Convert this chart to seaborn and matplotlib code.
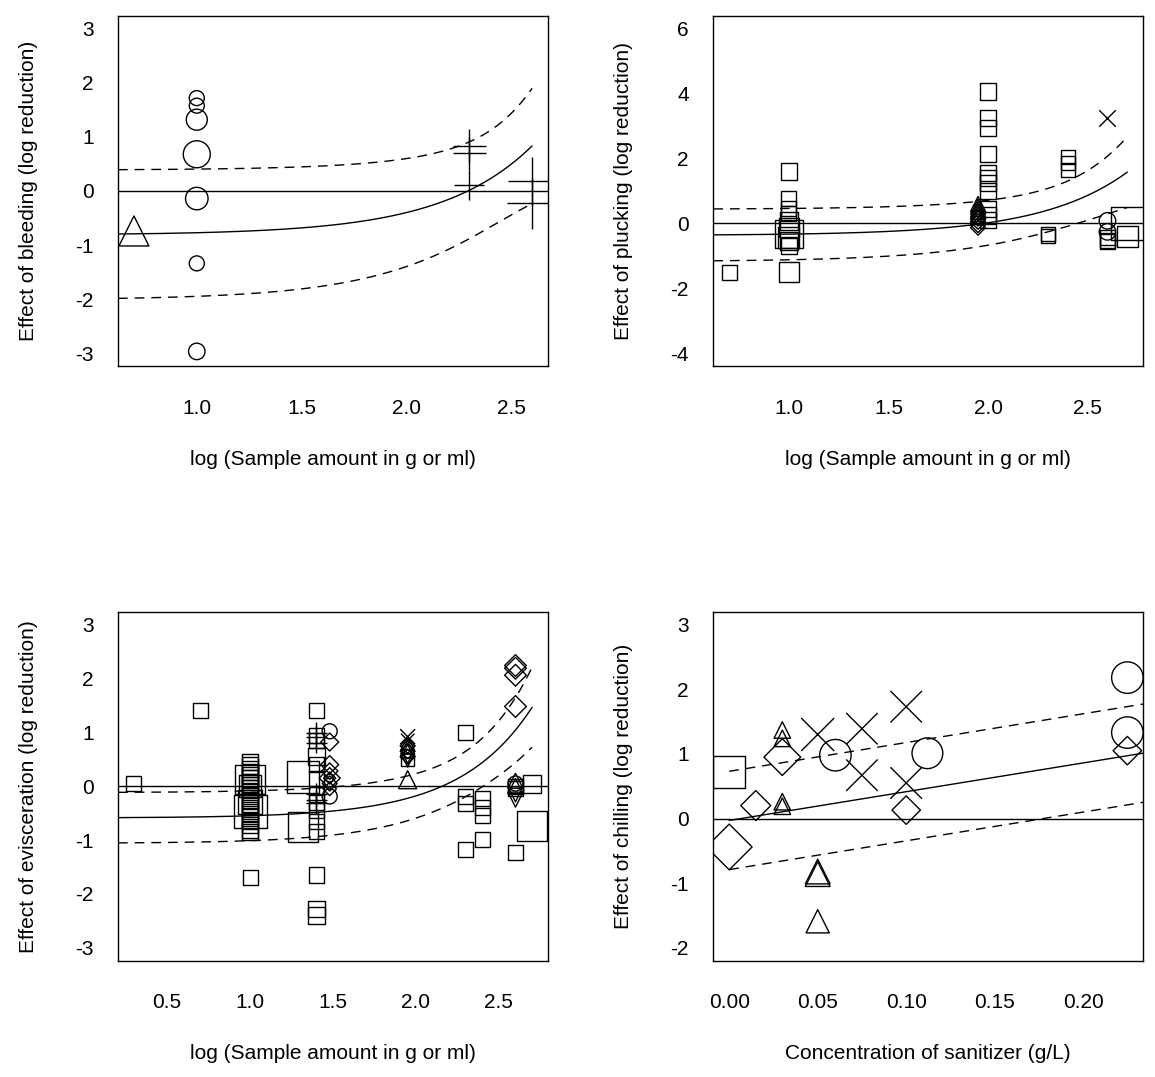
import matplotlib
matplotlib.use('agg')
import numpy as np
import pandas as pd
import matplotlib.pyplot as plt
import seaborn as sns

# ---------------- data ----------------
# pch codes: sq = square, ci = circle, tr = triangle, it = inverted triangle,
#            pl = plus, cr = cross, di = diamond ; w = relative symbol size

# bleeding
bleed_x = [0.70, 1.0, 1.0, 1.0, 1.0, 1.0, 1.0, 1.0, 2.3, 2.3, 2.3, 2.6, 2.6]
bleed_y = [-0.74, 1.72, 1.58, 1.32, 0.68, -0.14, -1.34, -2.97, 0.84, 0.70, 0.11, 0.19, -0.23]
bleed_pch = ['tr', 'ci', 'ci', 'ci', 'ci', 'ci', 'ci', 'ci', 'pl', 'pl', 'pl', 'pl', 'pl']
bleed_w = [2.0, 1.0, 1.0, 1.4, 1.8, 1.5, 1.0, 1.1, 2.2, 2.2, 2.0, 3.2, 3.4]

# plucking
pluck_x = ([0.70] + [1.0] * 11 + [2.0] * 11 + [1.95] * 10
           + [2.3] * 2 + [2.4] * 3 + [2.6] * 6 + [2.7] * 2)
pluck_y = ([-1.52]
           + [1.60, 0.78, 0.45, 0.30, 0.08, -0.12, -0.33, -0.45, -0.55, -0.70, -1.50]
           + [4.07, 3.25, 2.95, 2.14, 1.55, 1.40, 1.25, 1.00, 0.45, 0.25, 0.10]
           + [0.60, 0.52, 0.44, 0.36, 0.28, 0.20, 0.15, 0.05, -0.05, -0.13]
           + [-0.33, -0.38]
           + [2.06, 1.86, 1.65]
           + [3.25, 0.08, -0.26, -0.45, -0.52, -0.56]
           + [0.0, -0.41])
pluck_pch = (['sq'] + ['sq'] * 11 + ['sq'] * 11 + ['tr'] * 6 + ['di'] * 4
             + ['sq'] * 2 + ['sq'] * 3 + ['cr', 'ci', 'ci', 'sq', 'sq', 'sq'] + ['sq'] * 2)
pluck_w = ([1.0]
           + [1.1, 1.0, 1.0, 1.0, 1.2, 1.3, 1.9, 1.4, 1.2, 1.1, 1.35]
           + [1.1] * 11
           + [1.0] * 6 + [1.0] * 4
           + [0.95] * 2 + [0.95] * 3
           + [1.1, 1.1, 1.1, 1.0, 1.0, 1.0]
           + [2.2, 1.4])

# evisceration
evisc_x = ([0.30, 0.70, 1.0] + [1.0] * 25 + [1.32] * 2 + [1.4] * 14 + [1.4] * 6
           + [1.48] * 3 + [1.48] * 7 + [1.95] * 12 + [2.3] * 4 + [2.4] * 4
           + [2.6] * 12 + [2.7] * 2)
evisc_y = ([0.05, 1.40, -1.69]
           + [0.45, 0.38, 0.32, 0.26, 0.20, 0.14, 0.08, 0.02, -0.04, -0.10, -0.18,
              -0.26, -0.32, -0.38, -0.45, -0.52, -0.58, -0.65, -0.72, -0.80, -0.85,
              0.12, -0.47, 0.0, -0.30]
           + [0.17, -0.75]
           + [1.40, 0.95, 0.85, 0.55, 0.40, 0.15, -0.15, -0.30, -0.45, -0.65, -0.85,
              -1.65, -2.28, -2.40]
           + [0.99, 0.91, 0.81, -0.15, -0.25, -0.32]
           + [1.02, -0.19, 0.15]
           + [0.82, 0.40, 0.28, 0.15, 0.15, 0.05, -0.05]
           + [0.92, 0.85, 0.80, 0.72, 0.65, 0.12, 0.75, 0.65, 0.55, 0.55, 0.48, 0.50]
           + [1.0, -0.19, -0.32, -1.17]
           + [-0.22, -0.40, -0.55, -0.99]
           + [2.24, 2.19, 2.06, 1.48, 0.05, 0.10, 0.0, 0.0, -0.05, -0.15, -0.25, -1.23]
           + [0.05, -0.74])
evisc_pch = (['sq'] * 3 + ['sq'] * 25 + ['sq'] * 2 + ['sq'] * 14 + ['pl'] * 6
             + ['ci'] * 3 + ['di'] * 7
             + ['cr', 'cr', 'tr', 'tr', 'tr', 'tr', 'di', 'di', 'di', 'it', 'it', 'sq']
             + ['sq'] * 4 + ['sq'] * 4
             + ['di', 'di', 'di', 'di', 'ci', 'tr', 'tr', 'sq', 'sq', 'it', 'it', 'sq']
             + ['sq'] * 2)
evisc_w = ([1.0, 1.0, 1.0]
           + [1.1] * 21 + [1.95, 2.2, 1.5, 1.6]
           + [2.1, 2.0]
           + [1.0, 1.0, 1.0, 1.1, 1.0, 1.0, 1.0, 1.0, 1.0, 1.0, 1.0, 1.05, 1.1, 1.1]
           + [1.45] * 6
           + [1.0, 1.0, 0.5]
           + [1.2, 1.2, 1.1, 1.4, 0.8, 1.0, 0.9]
           + [1.0, 0.9, 0.9, 0.9, 0.9, 1.2, 1.0, 1.0, 1.0, 0.9, 0.9, 0.9]
           + [1.0] * 4 + [1.0] * 4
           + [1.45, 1.45, 1.45, 1.45, 1.0, 1.0, 1.0, 1.0, 1.0, 1.0, 1.0, 1.0]
           + [1.2, 2.0])

# chilling
chill_x = [0.0, 0.0, 0.015, 0.03, 0.03, 0.03, 0.03, 0.03, 0.05, 0.05, 0.05, 0.05,
           0.06, 0.075, 0.075, 0.10, 0.10, 0.10, 0.112, 0.225, 0.225, 0.225]
chill_y = [0.72, -0.44, 0.20, 1.37, 1.24, 0.26, 0.19, 0.95, 1.30, -0.82, -0.86, -1.59,
           0.98, 1.39, 0.67, 1.73, 0.55, 0.13, 1.01, 2.18, 1.33, 1.05]
chill_pch = ['sq', 'di', 'di', 'tr', 'tr', 'tr', 'tr', 'di', 'cr', 'tr', 'tr', 'tr',
             'ci', 'cr', 'cr', 'cr', 'cr', 'di', 'ci', 'ci', 'ci', 'di']
chill_w = [2.1, 3.05, 2.0, 1.1, 1.1, 1.1, 1.1, 2.45, 2.2, 1.65, 1.65, 1.55,
           2.1, 2.1, 2.1, 2.1, 2.1, 1.9, 2.05, 2.1, 2.1, 1.9]

# fitted meta-regression lines: y = b0 + b1 * u, band = +/- sqrt(a + b (u - u0)^2)
bleed_fit, bleed_band = [-0.814, 0.00414], [0.792, 1.23e-5, 230.0]
pluck_fit, pluck_band = [-0.37, 0.0039], [0.444, 6.92e-6, 172.5]
evisc_fit, evisc_band = [-0.59, 0.0041], [0.166, 2.92e-6, 138.0]
chill_fit, chill_band = [-0.03, 4.45], [0.578, 0.0, 0.0]

# ---------------- plotting ----------------
sns.set_theme(style="white")
plt.rcParams['font.family'] = ['Liberation Sans', 'DejaVu Sans']
plt.rcParams['axes.unicode_minus'] = False

PX = 100 / 72.0          # pixels per point at dpi 100
BASE = 15.0              # pixel size of a w = 1 symbol
MARK = {'sq': 's', 'ci': 'o', 'tr': '^', 'it': 'v', 'pl': '+', 'cr': 'x', 'di': 'D'}


def draw_points(ax, xs, ys, pch, w):
    df = pd.DataFrame({'x': xs, 'y': ys, 'pch': pch, 'w': w})
    for code, g in df.groupby('pch'):
        ms = g['w'].values * BASE / PX
        if code == 'di':
            ms = ms / np.sqrt(2)
        m = MARK[code]
        if code in ('pl', 'cr'):
            sns.scatterplot(x=g['x'].values, y=g['y'].values, marker=m, s=ms ** 2,
                            color='black', linewidth=1.0, ax=ax, legend=False)
        else:
            sns.scatterplot(x=g['x'].values, y=g['y'].values, marker=m, s=ms ** 2,
                            facecolor='none', edgecolor='black', linewidth=1.0,
                            ax=ax, legend=False)


def draw_fit(ax, x0, x1, fit, band, logscale):
    xs = np.linspace(x0, x1, 200)
    u = 10 ** xs if logscale else xs
    mid = fit[0] + fit[1] * u
    half = np.sqrt(band[0] + band[1] * (u - band[2]) ** 2)
    sns.lineplot(x=xs, y=mid, color='black', linewidth=1.0, ax=ax)
    for s in (1, -1):
        sns.lineplot(x=xs, y=mid + s * half, color='black', linewidth=1.0,
                     linestyle=(0, (7, 5)), ax=ax)


def r_range(v):
    lo, hi = min(v), max(v)
    d = (hi - lo) * 0.04
    return lo - d, hi + d


fig = plt.figure(figsize=(11.55, 10.77), dpi=100)
W, H = 430 / 1155, 350 / 1077
axes = [fig.add_axes([118 / 1155, 1 - 366 / 1077, W, H]),
        fig.add_axes([713.3 / 1155, 1 - 366 / 1077, W, H]),
        fig.add_axes([118 / 1155, 1 - 960.7 / 1077, W, 349 / 1077]),
        fig.add_axes([713.3 / 1155, 1 - 960.7 / 1077, W, 349 / 1077])]

panels = [
    (bleed_x, bleed_y, bleed_pch, bleed_w, bleed_fit, bleed_band, True, (-3, 3),
     [1.0, 1.5, 2.0, 2.5], list(range(-3, 4)),
     'log (Sample amount in g or ml)', 'Effect of bleeding (log reduction)'),
    (pluck_x, pluck_y, pluck_pch, pluck_w, pluck_fit, pluck_band, True, (-4, 6),
     [1.0, 1.5, 2.0, 2.5], list(range(-4, 7, 2)),
     'log (Sample amount in g or ml)', 'Effect of plucking (log reduction)'),
    (evisc_x, evisc_y, evisc_pch, evisc_w, evisc_fit, evisc_band, True, (-3, 3),
     [0.5, 1.0, 1.5, 2.0, 2.5], list(range(-3, 4)),
     'log (Sample amount in g or ml)', 'Effect of evisceration (log reduction)'),
    (chill_x, chill_y, chill_pch, chill_w, chill_fit, chill_band, False, (-2, 3),
     [0.0, 0.05, 0.10, 0.15, 0.20], list(range(-2, 4)),
     'Concentration of sanitizer (g/L)', 'Effect of chilling (log reduction)'),
]

for ax, (xs, ys, pch, w, fit, band, logscale, ylim, xt, yt, xl, yl) in zip(axes, panels):
    xlim = r_range(xs)
    ylo, yhi = r_range(ylim)
    ax.axhline(0, color='black', linewidth=1.0)
    draw_points(ax, xs, ys, pch, w)
    if logscale:
        draw_fit(ax, xlim[0], max(xs), fit, band, True)
    else:
        draw_fit(ax, 0.0, 0.25, fit, band, False)
    ax.set_xlim(*xlim)
    ax.set_ylim(ylo, yhi)
    ax.set_xticks(xt)
    ax.set_yticks(yt)
    if logscale:
        ax.set_xticklabels(['%.1f' % v for v in xt])
    else:
        ax.set_xticklabels(['%.2f' % v for v in xt])
    ax.set_yticklabels([str(v) for v in yt])
    ax.tick_params(direction='out', length=8.6, width=1.0, color='black',
                   labelsize=15, labelcolor='black')
    ax.tick_params(axis='x', pad=15)
    ax.tick_params(axis='y', pad=9)
    ax.set_xlabel(xl, fontsize=15, labelpad=23, color='black')
    ax.set_ylabel(yl, fontsize=15, labelpad=27, color='black')
    for sp in ax.spines.values():
        sp.set_visible(True)
        sp.set_color('black')
        sp.set_linewidth(1.0)
    ax.set_facecolor('white')

fig.savefig('out.png', dpi=100, facecolor='white')
